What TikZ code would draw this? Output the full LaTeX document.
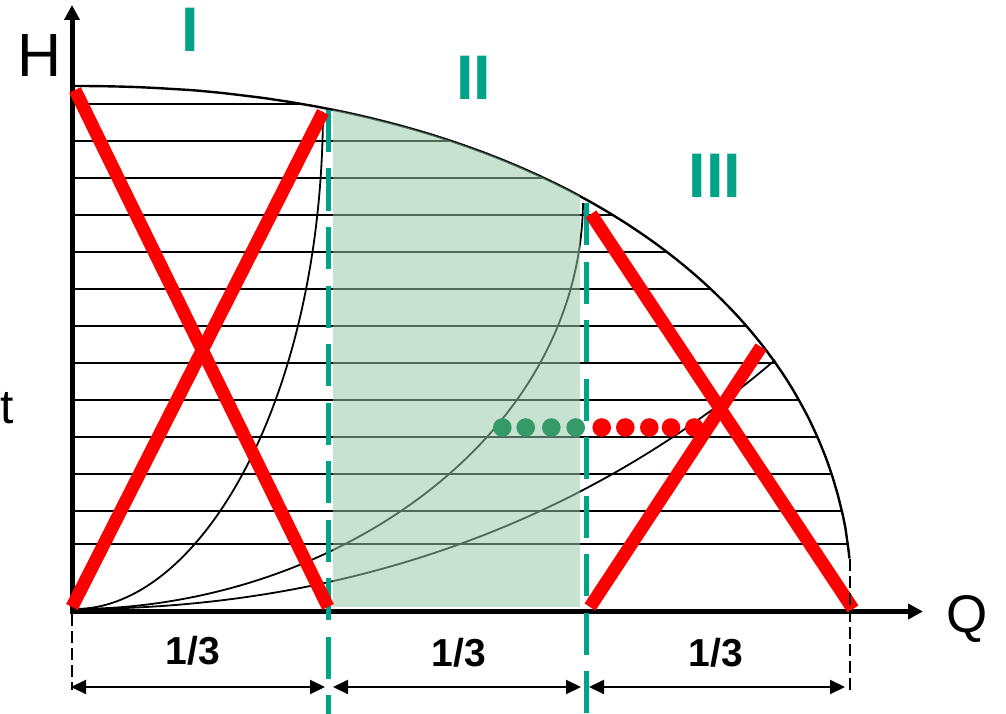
\documentclass[tikz,border=0pt]{standalone}
\usepackage{fontspec}
\setmainfont{Liberation Sans}
\usetikzlibrary{arrows.meta}
\definecolor{tealc}{RGB}{0,163,136}
\definecolor{dotgreen}{RGB}{52,155,104}
\definecolor{fillgreen}{RGB}{151,200,170}
\begin{document}
\begin{tikzpicture}[x=1pt,y=-1pt,
  hline/.style={line width=2pt},
  curve/.style={line width=1.8pt},
  envline/.style={line width=2.4pt},
  redx/.style={red,line width=13pt},
  tealdash/.style={tealc,line width=5pt,dash pattern=on 42pt off 16.5pt},
  dim/.style={line width=2pt,{Triangle[length=15pt,width=14pt]}-{Triangle[length=15pt,width=14pt]}},
  blackdash/.style={line width=1.5pt,dash pattern=on 12pt off 5pt},
  axisline/.style={line width=5pt,-{Triangle[length=15pt,width=15pt]}},
  roman/.style={text=tealc,font=\fontsize{63}{63}\selectfont\bfseries,inner sep=0pt,anchor=base},
  fraclbl/.style={font=\fontsize{39}{39}\selectfont\bfseries,inner sep=0pt,anchor=base},
  axislbl/.style={inner sep=0pt,anchor=base}]
\useasboundingbox (0,0) rectangle (1006,714);
\def\env{plot[domain=4.8:89.9,samples=120,variable=\t] ({72+780*cos(\t)^0.9302},{611-525*sin(\t)^0.9302})}

% horizontal lines clipped to the region under the H-Q envelope
\begin{scope}
  \clip \env -- (72,86) -- (72,611) -- (852,611) -- cycle;
  \foreach \yy in {104,141,178,215,252,289,326,363,400,437,474,511,544}
    \draw[hline] (72,\yy) -- (870,\yy);
\end{scope}

% system curves
\draw[curve] (75,609) .. controls (200,609) and (322,400) .. (323,112);
\draw[curve] (75,609) .. controls (330,609) and (580,440) .. (583,203);
\draw[curve] (75,609) .. controls (350,609) and (587,521) .. (775,360);

% envelope
\draw[envline] \env -- (72,86);

% green shaded region II
\begin{scope}
  \clip \env -- (72,86) -- (72,611) -- (852,611) -- cycle;
  \fill[fillgreen,opacity=0.53] (333,0) rectangle (580,607);
\end{scope}

% axes
\draw[axisline] (72,614) -- (72,5);
\draw[axisline] (70,611.5) -- (923,611.5);

% teal dashed boundaries
\draw[tealdash] (328,110) -- (328,714);
\draw[tealdash] (586,203) -- (586,714);

% red crosses
\draw[redx] (75,90) -- (328,607);
\draw[redx] (72,607) -- (323,112);
\draw[redx] (591,214) -- (853,609);
\draw[redx] (590,607) -- (761,347);

% dots
\foreach \x in {502.3,525.7,551.3,575.7}
  \fill[dotgreen] (\x,427.5) circle (9.3pt);
\foreach \x in {601.7,625.3,649.3,671,694.3}
  \fill[red] (\x,427.5) circle (9.3pt);

% dimension lines
\draw[blackdash] (72,614) -- (72,690);
\draw[blackdash] (850,559) -- (850,692);
\coordinate (d0) at (71,687);
\coordinate (d1) at (325,687);
\coordinate (d2) at (333,687);
\coordinate (d3) at (581,687);
\coordinate (d4) at (589,687);
\coordinate (d5) at (845,687);
\draw[dim] (d0) -- (d1);
\draw[dim] (d2) -- (d3);
\draw[dim] (d4) -- (d5);

% labels
\node[axislbl,font=\fontsize{61}{61}\selectfont] (H) at (40,77) {H};
\node[axislbl,font=\fontsize{53}{53}\selectfont] (Q) at (967,632) {Q};
\node[inner sep=0pt,anchor=base east,font=\fontsize{48}{48}\selectfont] (t) at (14,423) {t};
\node[roman] (r1) at (190,52) {I};
\node[roman] (r2) at (473.5,100) {II};
\node[roman] (r3) at (715,197) {III};
\node[fraclbl] (f1) at (193,664) {1/3};
\node[fraclbl] (f2) at (459,666) {1/3};
\node[fraclbl] (f3) at (716,666) {1/3};
\end{tikzpicture}
\end{document}
